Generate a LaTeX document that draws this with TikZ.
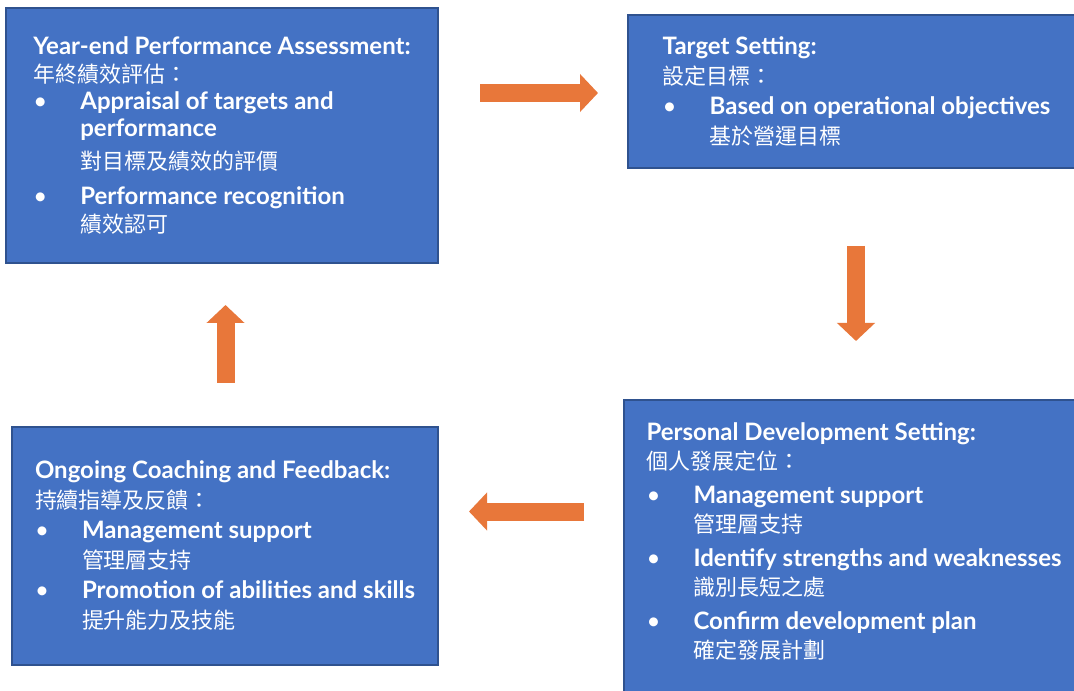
\documentclass[tikz,border=0pt]{standalone}
\usepackage{fontspec}
\setmainfont{Lato}
\newfontfamily\cjk{Noto Sans CJK TC}[Scale=0.915]
\usetikzlibrary{arrows.meta}
\definecolor{boxblue}{HTML}{4472C4}
\definecolor{boxline}{HTML}{2F528F}
\definecolor{arrowor}{HTML}{E8773A}
\newcommand{\bul}[1]{\makebox[35.25pt][l]{\textbullet}\textbf{#1}}
\newcommand{\ind}[1]{\makebox[35.25pt]{}#1}

\begin{document}
\begin{tikzpicture}[x=0.75pt, y=-0.75pt,
    stagebox/.style={draw=boxline, line width=1.9pt, fill=boxblue, text=white,
      align=left, inner sep=0pt, font=\fontsize{18}{22.5}\selectfont},
    flow/.style={line width=13.5pt, draw=arrowor,
      -{Triangle[length=13.5pt, width=27.75pt]}}]

    % page frame
    \clip (0,0) rectangle (1074,691);
    \fill[white] (0,0) rectangle (1074,691);

    % Draw the four stage boxes
    \node[stagebox, minimum width=324pt, minimum height=191.25pt,
      font=\fontsize{18}{20.5}\selectfont] (yearend) at (222,135.5) {%
      \textbf{Year-end Performance Assessment:}\\
      {\cjk 年終績效評估：}\\
      \bul{Appraisal of targets and}\\
      \ind{\textbf{performance}}\\[4pt]
      \ind{\cjk 對目標及績效的評價}\\[6pt]
      \bul{Performance recognition}\\
      \ind{\cjk 績效認可}};
    \node[stagebox, minimum width=342.75pt, minimum height=114.75pt] (target) at (856.5,91.5) {%
      \textbf{Target Setting:}\\
      {\cjk 設定目標：}\\
      \bul{Based on operational objectives}\\
      \ind{\cjk 基於營運目標}};
    \node[stagebox, minimum width=345pt, minimum height=225pt, text depth=14pt,
      font=\fontsize{18}{22.1}\selectfont] (personal) at (854,550) {%
      \textbf{Personal Development Setting:}\\
      {\cjk 個人發展定位：}\\[3pt]
      \bul{Management support}\\
      \ind{\cjk 管理層支持}\\[3pt]
      \bul{Identify strengths and weaknesses}\\
      \ind{\cjk 識別長短之處}\\[3pt]
      \bul{Confirm development plan}\\
      \ind{\cjk 確定發展計劃}};
    \node[stagebox, minimum width=319.5pt, minimum height=178.5pt] (coaching) at (225,546) {%
      \textbf{Ongoing Coaching and Feedback:}\\
      {\cjk 持續指導及反饋：}\\
      \bul{Management support}\\
      \ind{\cjk 管理層支持}\\
      \bul{Promotion of abilities and skills}\\
      \ind{\cjk 提升能力及技能}};

    % Arrow ends between the boxes
    \coordinate (r1) at (480,93);
    \coordinate (r2) at (598,93);
    \coordinate (d1) at (856,246);
    \coordinate (d2) at (856,341);
    \coordinate (l1) at (584,511.5);
    \coordinate (l2) at (469,511.5);
    \coordinate (u1) at (225.5,383);
    \coordinate (u2) at (225.5,305);

    % Draw the cycle arrows
    \draw[flow] (r1) -- (r2);
    \draw[flow] (d1) -- (d2);
    \draw[flow] (l1) -- (l2);
    \draw[flow] (u1) -- (u2);

\end{tikzpicture}
\end{document}
